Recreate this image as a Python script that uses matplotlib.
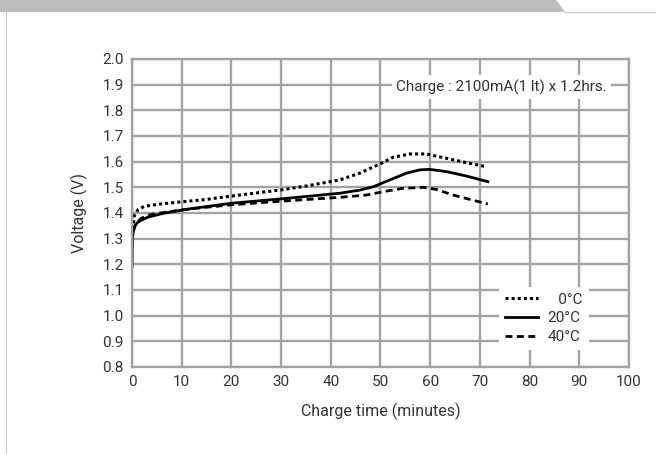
import matplotlib.pyplot as plt
import numpy as np
from matplotlib.patches import Polygon
from matplotlib.lines import Line2D

plt.rcParams['font.family'] = ['Roboto', 'DejaVu Sans']

# charge time (minutes) and voltage (V)
t_0c = [0.3, 0.5, 1.2, 2.5, 5.2, 9.2, 14.6, 20, 30, 35, 41.8, 45.8, 49.9, 52.5, 55.9, 59.2, 63.3, 67.3, 71.4]
v_0c = [1.36, 1.391, 1.413, 1.426, 1.434, 1.442, 1.452, 1.466, 1.490, 1.505, 1.529, 1.555, 1.591, 1.617, 1.630, 1.630, 1.613, 1.596, 1.580]

t_20c = [0, 0.05, 0.1, 0.4, 1.2, 3.2, 6.6, 11.9, 20, 30, 41.8, 45.8, 48.5, 51.9, 55.2, 57.9, 59.9, 63.3, 67.3, 71.6]
v_20c = [1.192, 1.255, 1.306, 1.345, 1.365, 1.384, 1.400, 1.417, 1.438, 1.455, 1.477, 1.489, 1.502, 1.529, 1.555, 1.568, 1.570, 1.561, 1.544, 1.522]

t_40c = [0.3, 0.8, 1.9, 4.0, 10.2, 20, 30, 41.8, 47.2, 50.5, 54.5, 58.6, 61.2, 64.6, 68.6, 71.6]
v_40c = [1.33, 1.360, 1.380, 1.395, 1.413, 1.432, 1.446, 1.461, 1.470, 1.483, 1.496, 1.500, 1.492, 1.470, 1.450, 1.435]

# leading spaces keep the labels flush right like the original
labels = ['   0°C', '20°C', '40°C']
xticks = np.arange(0, 101, 10)
yticks = np.round(np.arange(0.8, 2.01, 0.1), 1)

txt = '#333333'
gridc = '#a3a3a3'

fig = plt.figure(figsize=(6.56, 4.54), dpi=100)
fig.patch.set_facecolor('white')

# page decoration: grey header band and left rule
fig.patches.append(Polygon([[0, 1], [556/656, 1], [565/656, 1-12/454], [0, 1-12/454]],
                           closed=True, transform=fig.transFigure, facecolor='#bcbdbf', edgecolor='none'))
fig.lines.append(Line2D([565/656, 1], [1-12/454, 1-12/454], transform=fig.transFigure, color='#c8c8c8', lw=0.8))
fig.lines.append(Line2D([6/656, 6/656], [0, 1-12/454], transform=fig.transFigure, color='#c8c8c8', lw=0.8))

ax = fig.add_axes([132/656, 1-367/454, 497/656, 308/454])
ax.set_xlim(0, 100)
ax.set_ylim(0.8, 2.0)
ax.set_xticks(xticks)
ax.set_yticks(yticks)
ax.set_yticklabels([f'{v:.1f}' for v in yticks])
ax.grid(True, color=gridc, lw=1.7)
ax.set_axisbelow(True)
for s in ax.spines.values():
    s.set_color(gridc)
    s.set_linewidth(1.7)
ax.tick_params(length=0, labelsize=11, colors=txt, pad=6)

ax.plot(t_0c, v_0c, color='black', lw=2.2, ls=(0, (1, 1)), label=labels[0])
ax.plot(t_20c, v_20c, color='black', lw=2.0, label=labels[1])
ax.plot(t_40c, v_40c, color='black', lw=2.0, ls=(0, (2.5, 1.6)), label=labels[2])

ax.text(0.955, 1.89, 'Charge : 2100mA(1 lt) x 1.2hrs.', transform=ax.get_yaxis_transform(),
        ha='right', va='center', fontsize=11, color=txt,
        bbox=dict(facecolor='white', edgecolor='none', pad=3))

leg = ax.legend(loc='lower right', bbox_to_anchor=(0.935, 0.03), frameon=True, fontsize=11,
                handlelength=2.2, handletextpad=0.6, labelspacing=0.3, borderpad=0.4,
                fancybox=False, labelcolor=txt)
leg.get_frame().set_edgecolor('none')
leg.get_frame().set_facecolor('white')
leg.get_frame().set_alpha(1)

ax.set_xlabel('Charge time (minutes)', fontsize=11.5, color=txt, labelpad=10)
ax.set_ylabel('Voltage (V)', fontsize=11.5, color=txt, labelpad=10)

fig.savefig('out.png', dpi=100)
